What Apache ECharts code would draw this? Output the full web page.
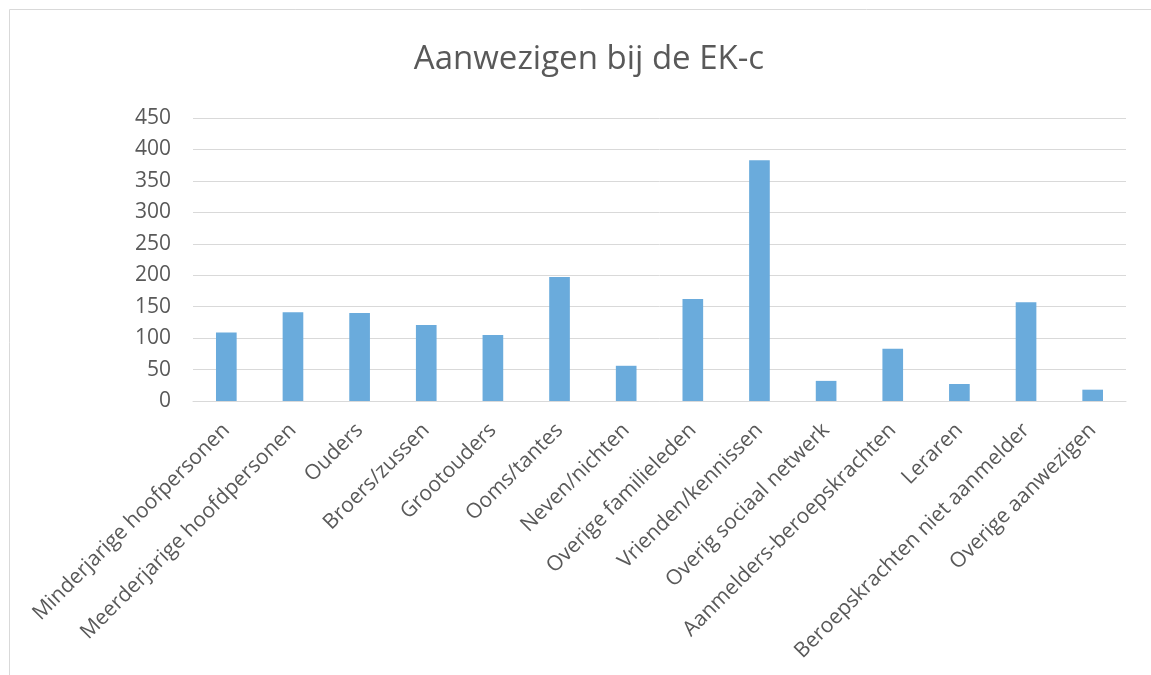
<!DOCTYPE html>
<html>
<head>
<meta charset="utf-8">
<script src="https://cdn.jsdelivr.net/npm/echarts@6/dist/echarts.min.js"></script>
<style>
  html, body { margin: 0; padding: 0; background: #fff; }
  #grafico { width: 1151px; height: 675px; }
</style>
</head>
<body>
<div id="grafico"></div>
<script>
const titel = "Aanwezigen bij de EK-c";
const categorieen = [
  "Minderjarige hoofpersonen",
  "Meerderjarige hoofdpersonen",
  "Ouders",
  "Broers/zussen",
  "Grootouders",
  "Ooms/tantes",
  "Neven/nichten",
  "Overige familieleden",
  "Vrienden/kennissen",
  "Overig sociaal netwerk",
  "Aanmelders-beroepskrachten",
  "Leraren",
  "Beroepskrachten niet aanmelder",
  "Overige aanwezigen"
];
const aantallen = [109, 141, 140, 121, 105, 197, 56, 162, 383, 32, 83, 27, 157, 18];

const tekstKleur = "#595959";
const lijnKleur = "#d9d9d9";

const chart = echarts.init(document.getElementById("grafico"));

const option = {
  animation: false,
  textStyle: { fontFamily: "Open Sans" },
  title: {
    text: titel,
    left: 584,
    top: 38,
    textAlign: "center",
    textStyle: {
      color: tekstKleur,
      fontSize: 33,
      fontWeight: "normal",
      fontFamily: "Open Sans"
    }
  },
  graphic: [
    {
      type: "rect",
      shape: { x: 9.5, y: 9.5, width: 1200, height: 700 },
      style: { fill: "none", stroke: lijnKleur, lineWidth: 1 },
      silent: true
    }
  ],
  grid: {
    left: 193,
    right: 25,
    top: 118,
    bottom: 274,
    containLabel: false
  },
  xAxis: {
    type: "category",
    data: categorieen,
    axisLine: { lineStyle: { color: lijnKleur, width: 1 } },
    axisTick: { show: false },
    axisLabel: {
      interval: 0,
      rotate: 45,
      margin: 26,
      color: tekstKleur,
      fontSize: 21,
      fontFamily: "Open Sans"
    }
  },
  yAxis: {
    type: "value",
    min: 0,
    max: 450,
    interval: 50,
    axisLine: { show: false },
    axisTick: { show: false },
    splitLine: { lineStyle: { color: lijnKleur, width: 1 } },
    axisLabel: {
      color: tekstKleur,
      fontSize: 21,
      margin: 22,
      fontFamily: "Open Sans"
    }
  },
  series: [
    {
      type: "bar",
      data: aantallen,
      barWidth: "31%",
      itemStyle: { color: "#6aabdc" }
    }
  ]
};

option && chart.setOption(option);
</script>
</body>
</html>
